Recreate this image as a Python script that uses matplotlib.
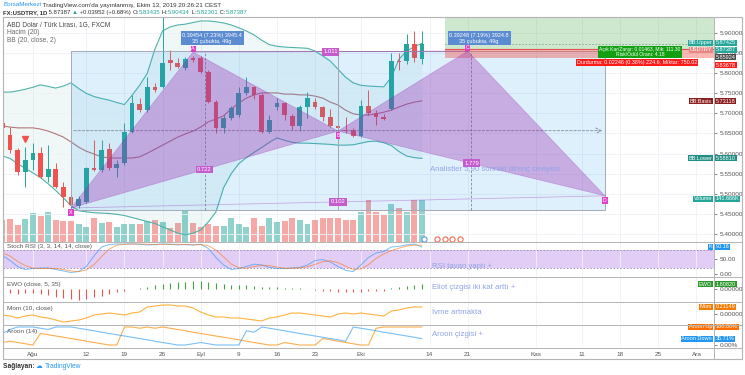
import numpy as np
import pandas as pd
import matplotlib
matplotlib.use("Agg")
import matplotlib.pyplot as plt
import matplotlib.transforms as mtransforms
from matplotlib.patches import Polygon, Rectangle
from matplotlib.lines import Line2D

plt.rcParams['font.family'] = ['Liberation Sans', 'DejaVu Sans']

# ---------------- data ----------------
bar_dates = pd.bdate_range('2019-07-26', '2019-10-11')
base_day = '2019-07-29'

opens = [5.676, 5.646, 5.609, 5.554, 5.584, 5.601, 5.542, 5.562, 5.517, 5.492, 5.470, 5.480, 5.564, 5.559,
         5.611, 5.564, 5.576, 5.654, 5.723, 5.709, 5.766, 5.766, 5.833, 5.825, 5.813, 5.838, 5.838, 5.803,
         5.728, 5.664, 5.689, 5.696, 5.751, 5.766, 5.746, 5.654, 5.716, 5.726, 5.694, 5.669, 5.716, 5.728,
         5.716, 5.691, 5.669, 5.659, 5.659, 5.644, 5.718, 5.701, 5.691, 5.711, 5.831, 5.830, 5.873, 5.83435]
highs = [5.685, 5.666, 5.614, 5.616, 5.626, 5.616, 5.621, 5.577, 5.529, 5.502, 5.495, 5.566, 5.634, 5.634,
         5.626, 5.584, 5.676, 5.746, 5.738, 5.791, 5.776, 5.950, 5.858, 5.838, 5.840, 5.842, 5.842, 5.808,
         5.733, 5.696, 5.718, 5.766, 5.791, 5.768, 5.751, 5.696, 5.738, 5.728, 5.699, 5.721, 5.753, 5.738,
         5.718, 5.711, 5.671, 5.691, 5.664, 5.733, 5.758, 5.708, 5.699, 5.850, 5.850, 5.898, 5.905, 5.90434]
lows = [5.655, 5.602, 5.547, 5.517, 5.559, 5.539, 5.529, 5.514, 5.467, 5.465, 5.465, 5.477, 5.556, 5.554,
        5.559, 5.542, 5.572, 5.651, 5.704, 5.704, 5.753, 5.763, 5.808, 5.813, 5.808, 5.828, 5.800, 5.725,
        5.651, 5.651, 5.684, 5.691, 5.746, 5.736, 5.651, 5.651, 5.708, 5.684, 5.659, 5.656, 5.689, 5.711,
        5.681, 5.666, 5.659, 5.651, 5.641, 5.641, 5.696, 5.671, 5.684, 5.709, 5.808, 5.823, 5.828, 5.82301]
closes = [5.664, 5.609, 5.554, 5.584, 5.601, 5.542, 5.562, 5.517, 5.492, 5.472, 5.487, 5.564, 5.559, 5.609,
          5.564, 5.574, 5.654, 5.726, 5.709, 5.766, 5.758, 5.825, 5.825, 5.815, 5.835, 5.833, 5.803, 5.728,
          5.664, 5.689, 5.713, 5.751, 5.766, 5.746, 5.654, 5.684, 5.726, 5.696, 5.669, 5.716, 5.738, 5.716,
          5.691, 5.669, 5.664, 5.656, 5.644, 5.718, 5.701, 5.691, 5.686, 5.830, 5.829, 5.873, 5.838, 5.87387]
volume_k = [74, 78, 57, 78, 98, 88, 101, 74, 71, 71, 61, 51, 81, 64, 67, 51, 61, 61, 61, 71,
            74, 67, 47, 64, 108, 64, 51, 61, 54, 54, 81, 61, 51, 81, 54, 81, 67, 71, 81, 74,
            61, 74, 81, 81, 81, 74, 74, 101, 142, 101, 91, 128, 115, 101, 142, 141.666]

bb_upper = [5.753, 5.753, 5.756, 5.760, 5.765, 5.771, 5.767, 5.763, 5.768, 5.776, 5.762, 5.750, 5.742, 5.737,
            5.733, 5.727, 5.722, 5.745, 5.770, 5.800, 5.860, 5.905, 5.915, 5.920, 5.922, 5.926, 5.930, 5.930,
            5.928, 5.925, 5.920, 5.913, 5.905, 5.895, 5.882, 5.871, 5.867, 5.865, 5.864, 5.863, 5.862, 5.855,
            5.843, 5.830, 5.810, 5.790, 5.776, 5.770, 5.768, 5.767, 5.766, 5.790, 5.835, 5.855, 5.866, 5.87425]
bb_basis = [5.669, 5.666, 5.664, 5.664, 5.664, 5.661, 5.656, 5.649, 5.641, 5.629, 5.616, 5.606, 5.599, 5.592,
            5.589, 5.589, 5.589, 5.589, 5.592, 5.601, 5.611, 5.621, 5.631, 5.641, 5.649, 5.656, 5.666, 5.679,
            5.686, 5.694, 5.711, 5.726, 5.738, 5.746, 5.751, 5.751, 5.751, 5.748, 5.748, 5.746, 5.746, 5.743,
            5.738, 5.728, 5.721, 5.708, 5.699, 5.696, 5.696, 5.699, 5.703, 5.708, 5.716, 5.723, 5.728, 5.73118]
bb_lower = [5.594, 5.588, 5.575, 5.563, 5.552, 5.540, 5.525, 5.508, 5.490, 5.470, 5.458, 5.455, 5.453, 5.452,
            5.451, 5.449, 5.446, 5.441, 5.436, 5.431, 5.426, 5.418, 5.410, 5.402, 5.398, 5.402, 5.410, 5.430,
            5.455, 5.515, 5.550, 5.575, 5.590, 5.603, 5.615, 5.628, 5.639, 5.633, 5.628, 5.626, 5.626, 5.625,
            5.624, 5.623, 5.621, 5.621, 5.622, 5.626, 5.630, 5.631, 5.627, 5.620, 5.605, 5.594, 5.590, 5.58810]

stoch_k = [62, 45, 25, 15, 18, 20, 20, 15, 10, 5, 8, 25, 60, 90, 98,
           100, 100, 100, 99, 97, 98, 100, 99, 97, 98, 97, 99,
           85, 55, 30, 15, 18, 25, 33, 30, 22, 18, 18, 20, 22, 30, 45, 48, 40, 25, 12, 8, 30, 55, 70, 75,
           90, 92, 97, 100, 90.16]
stoch_d = [70, 60, 42, 28, 20, 18, 19, 18, 15, 10, 8, 13, 31, 58, 83,
           96, 99, 100, 100, 99, 98, 99, 99, 99, 98, 97, 98,
           94, 80, 57, 33, 21, 19, 25, 29, 28, 23, 19, 19, 20, 24, 32, 41, 44, 38, 26, 15, 17, 31, 52, 67,
           78, 86, 93, 96, 96]
ewo = [-1.2, -1.5, -1.8, -1.6, -1.5, -2.0, -2.3, -2.8, -3.3, -3.8, -4.0,
       -3.6, -3.0, -2.4, -1.8, -1.2, -0.6, 0.1, 0.4, 0.8, 1.3,
       1.8, 2.1, 2.4, 2.6, 2.9, 2.8, 2.5, 2.1, 1.8, 1.6,
       1.5, 1.4, 1.2, 0.9, 0.8, 0.7, 0.5, 0.3, 0.2, 0.1,
       -0.3, -0.6, -0.8, -1.0, -1.1, -1.2, -1.0, -0.9, -0.8, -0.6,
       0.2, 0.6, 1.0, 1.3, 1.8082]
mom = [-0.03, -0.06, -0.12, -0.06, -0.03, -0.09, -0.12, -0.18, -0.24, -0.21,
       -0.18, -0.12, -0.03, 0.0, 0.03, 0.0, -0.03, 0.03, 0.06, 0.21,
       0.24, 0.27, 0.27, 0.24, 0.24, 0.18, 0.06, -0.03, -0.09, -0.09,
       -0.12, -0.12, -0.15, -0.18, -0.21, -0.12, -0.09, -0.03, 0.03, 0.03,
       0.0, -0.03, -0.06, -0.09, 0.0, 0.03, 0.0, 0.03, 0.0, -0.03,
       -0.06, 0.09, 0.12, 0.18, 0.21, 0.21149]
aroon_up = [14, 21, 14, 7, 0, 64, 57, 50, 43, 36, 29, 21, 14, 7, 0, 0, 100, 100, 93, 100, 93, 100,
            93, 86, 79, 71, 64, 57, 50, 43, 36, 29, 21, 14, 7, 0, 0, 14, 7, 0, 0, 0, 36, 29, 21, 14,
            7, 0, 0, 93, 100, 100, 100, 100, 100, 100]
aroon_down = [64, 86, 100, 100, 100, 93, 86, 100, 100, 100, 93, 86, 79, 71, 64, 57, 50, 43, 36, 29,
              21, 14, 7, 0, 0, 7, 14, 7, 0, 0, 0, 0, 79, 71, 100, 93, 86, 79, 71, 64, 57, 50, 43, 36,
              29, 21, 100, 93, 86, 79, 71, 64, 57, 50, 43, 35.71]

tick_dates = ['2019-08-01', '2019-08-12', '2019-08-19', '2019-08-26', '2019-09-02', '2019-09-09',
              '2019-09-16', '2019-09-23', '2019-10-01', '2019-10-14', '2019-10-21', '2019-11-01',
              '2019-11-11', '2019-11-18', '2019-11-25', '2019-12-02']
tick_text = ['Ağu', '12', '19', '26', 'Eyl', '9', '16', '23', 'Eki', '14', '21', 'Kas', '11', '18', '25', 'Ara']

# XABCD pattern points (drawing)
pat_names = ['X', 'A', 'B', 'C', 'D']
pat_dates = ['2019-08-08', '2019-08-30', '2019-09-26', '2019-10-21', '2019-11-14']
pat_prices = [5.4647, 5.8527, 5.6560, 5.8549, 5.4950]
pat_ratios = ['0.722', '1.011', '1.779', '0.102']
box_low, box_high = 5.4597, 5.8542
range_labels = ['0.39454 (7.23%) 3945.4\n35 çubukta, 49g', '0.39248 (7.19%) 3924.8\n35 çubukta, 49g']
pos_start, pos_end = '2019-10-16', '2019-12-05'
entry, stop_lvl, target, last_price = 5.85924, 5.83678, 5.953, 5.87387

# ---------------- helpers ----------------
def bpos(d):
    return np.busday_count(base_day, np.array(d, dtype='datetime64[D]'))

W, H = 745, 375
fig = plt.figure(figsize=(W / 100, H / 100), dpi=100)


def prect(x0, y0, x1, y1):
    return [x0 / W, 1 - y1 / H, (x1 - x0) / W, (y1 - y0) / H]


x = bpos(bar_dates.values.astype('datetime64[D]'))
o, h, l, c = map(np.array, (opens, highs, lows, closes))
up = c >= o
GREEN, RED = '#26a69a', '#ef5350'
tick_pos = bpos(tick_dates)
XLIM = (-0.92, 92.3)
GRID = '#eef1f6'
note_col = '#8fa3e6'


def style(ax):
    ax.set_xlim(*XLIM)
    for s in ax.spines.values():
        s.set_visible(False)
    ax.yaxis.tick_right()
    ax.tick_params(axis='y', labelsize=4.6, colors='#555555', length=2, pad=2, width=0.5)
    ax.set_xticks(tick_pos)
    ax.tick_params(axis='x', length=0, labelbottom=False)
    ax.grid(axis='x', color=GRID, lw=0.6)


def tag(ax, yval, value, color, name=None, name_color=None):
    tr = mtransforms.blended_transform_factory(ax.transAxes, ax.transData)
    ax.text((716 - 3) / 711, yval, value, transform=tr, ha='left', va='center', fontsize=4.0,
            color='white', clip_on=False, zorder=20,
            bbox=dict(boxstyle='square,pad=0.1', fc=color, ec='none'))
    if name:
        ax.text((712 - 3) / 711, yval, name, transform=tr, ha='right', va='center', fontsize=4.0,
                color='white', clip_on=False, zorder=20,
                bbox=dict(boxstyle='square,pad=0.1', fc=name_color or color, ec='none'))


# ---------------- main pane ----------------
vol_ax = fig.add_axes(prect(3, 17, 714, 242))
ax = fig.add_axes(prect(3, 17, 714, 242), facecolor='none')
for a in (vol_ax, ax):
    style(a)
vol_ax.set_yticks([])
vol_ax.set_ylim(0, 759)
vol_ax.bar(x, volume_k, width=0.78, color=np.where(up, GREEN, RED), alpha=0.5, zorder=2)
price_ticks = np.round(np.arange(5.40, 5.901, 0.05), 2)
ax.set_ylim(5.3801, 5.9398)
ax.set_yticks(price_ticks)
ax.set_yticklabels([f'{v:.5f}' for v in price_ticks])
ax.grid(axis='y', color=GRID, lw=0.6)
ax.grid(axis='x', visible=False)

# Bollinger bands
ax.fill_between(x, bb_lower, bb_upper, color=GREEN, alpha=0.07, lw=0, zorder=1)
ax.plot(x, bb_upper, color='#4fb3a8', lw=0.8, zorder=3)
ax.plot(x, bb_lower, color='#4fb3a8', lw=0.8, zorder=3)
ax.plot(x, bb_basis, color='#b0686d', lw=0.8, alpha=0.9, zorder=3)

# candles
ax.vlines(x, l, h, colors=np.where(up, GREEN, RED), lw=0.7, zorder=4)
body = np.maximum(np.abs(c - o), 0.0012)
ax.bar(x, body, bottom=np.minimum(o, c), width=0.62, color=np.where(up, GREEN, RED), zorder=5)
ax.plot(x[3], 5.636, marker='v', color=RED, ms=4, zorder=6)

# range measurement boxes
px_ = bpos(pat_dates)
for i, (a, b) in enumerate([(px_[0], px_[2]), (px_[2], px_[4])]):
    ax.add_patch(Rectangle((a, box_low), b - a, box_high - box_low, fc='#2196f3', alpha=0.14,
                           ec='none', zorder=6))
    ax.add_patch(Rectangle((a, box_low), b - a, box_high - box_low, fc='none', ec='#a3a9b8',
                           lw=0.7, zorder=6))
    mid = (a + b) / 2
    ax.plot([mid, mid], [box_low, box_high], ls=(0, (3, 2)), color='#7d8797', lw=0.6, zorder=7)
    ax.annotate(range_labels[i], xy=(mid + 1, box_high), xytext=(0, 5.5), textcoords='offset points',
                ha='center', va='bottom', fontsize=4.0, color='white', zorder=15, linespacing=1.2,
                bbox=dict(boxstyle='square,pad=0.3', fc='#5b8bd0', ec='none'))
ymid = (box_low + box_high) / 2
ax.annotate('', xy=(px_[4], ymid), xytext=(px_[0], ymid),
            arrowprops=dict(arrowstyle='->', ls=(0, (3, 2)), color='#7d8797', lw=0.6), zorder=7)

# XABCD pattern
PUR = '#9c27b0'
pp = np.array(pat_prices)
ax.add_patch(Polygon([(px_[0], pp[0]), (px_[1], pp[1]), (px_[2], pp[2])], closed=True,
                     fc=PUR, alpha=0.33, ec=PUR, lw=0.5, zorder=8))
ax.add_patch(Polygon([(px_[2], pp[2]), (px_[3], pp[3]), (px_[4], pp[4])], closed=True,
                     fc=PUR, alpha=0.33, ec=PUR, lw=0.5, zorder=8))
ax.plot([px_[1], px_[3]], [pp[1], pp[3]], color=PUR, lw=0.6, alpha=0.5, zorder=8)
ax.plot([px_[0], px_[4]], [pp[0], pp[4]], color=PUR, lw=0.6, alpha=0.35, zorder=8)
for i, pair in enumerate([(0, 2), (1, 3), (2, 4), (0, 4)]):
    mx = (px_[pair[0]] + px_[pair[1]]) / 2
    my = (pp[pair[0]] + pp[pair[1]]) / 2
    ax.text(mx, my, pat_ratios[i], ha='center', va='center', fontsize=4.2, color='white', zorder=14,
            bbox=dict(boxstyle='square,pad=0.25', fc='#c45ccd', ec='none'))
for i, nm in enumerate(pat_names):
    dy = 0.5 if nm in ('A', 'C') else -1.5
    ax.annotate(nm, xy=(px_[i], pp[i]), xytext=(0, dy), textcoords='offset points', ha='center',
                va='bottom' if dy > 0 else 'top', fontsize=3.8, color='white', zorder=14,
                bbox=dict(boxstyle='square,pad=0.15', fc='#e040c8', ec='none'))

ax.text(55.0, 5.561, 'Analistler 5,90 sonraki direnç seviyesi', fontsize=5.6, color=note_col,
        ha='left', va='center', zorder=13)

# long position tool
ps, pe = bpos(pos_start), bpos(pos_end)
ax.add_patch(Rectangle((ps, entry), pe - ps, target - entry, fc='#4caf50', alpha=0.28, ec='none', zorder=6))
ax.add_patch(Rectangle((ps, stop_lvl), pe - ps, entry - stop_lvl, fc='#f44336', alpha=0.38, ec='none', zorder=6))
ax.plot([ps, pe], [last_price, last_price], ls=(0, (2, 2)), color='#7fa88a', lw=0.6, zorder=7)
ax.plot([ps, pe], [entry, entry], color='#e35050', lw=0.8, zorder=7)
ax.text(82.6, 5.8520, 'Açık Kar/Zarar: 0.01463, Mik: 111.30\nRisk/Ödül Oranı: 4.18', ha='center',
        va='center', fontsize=3.6, color='white', zorder=16, linespacing=1.0,
        bbox=dict(boxstyle='square,pad=0.2', fc='#12a012', ec='none'))
ax.text(82.2, 5.8262, 'Durdurma: 0.02246 (0.38%) 224.6, Miktar: 750.02', ha='center', va='center',
        fontsize=3.9, color='white', zorder=16,
        bbox=dict(boxstyle='square,pad=0.2', fc='#ff1a1a', ec='none'))

# event icons
ax.scatter([54.3], [5.3885], s=14, fc='white', ec='#5b9be0', lw=0.8, zorder=12, clip_on=False)
ax.scatter([56.0, 57.0, 58.0, 59.0], [5.3885] * 4, s=14, fc='white', ec='#f06b4e', lw=0.8,
           zorder=12, clip_on=False)

# legend texts
ax.text(0.005, 0.965, 'ABD Dolar / Türk Lirası, 1G, FXCM', transform=ax.transAxes, fontsize=4.8,
        color='#4a4a4a', va='center')
ax.text(0.005, 0.93, 'Hacim (20)', transform=ax.transAxes, fontsize=4.8, color='#6a6a6a', va='center')
ax.text(0.005, 0.894, 'BB (20, close, 2)', transform=ax.transAxes, fontsize=4.8, color='#6a6a6a', va='center')

# right tags (positions shifted apart like the chart does)
tag(ax, 5.8755, '5.87425', '#26a69a', 'BB:Upper')
tag(ax, 5.8578, '5.87387', '#26a69a', 'USDTRY', '#e88585')
tag(ax, 5.8398, '5.85924', '#4d4d4d')
tag(ax, 5.8200, '5.83678', '#ff1a1a')
tag(ax, 5.7308, '5.73118', '#8b1e1e', 'BB:Basis')
tag(ax, 5.5881, '5.58810', '#1f8f85', 'BB:Lower')
tag(ax, 5.4871, '141.666K', '#26a69a', 'Volume')

# ---------------- Stoch RSI ----------------
ax1 = fig.add_axes(prect(3, 243, 714, 276))
style(ax1)
ax1.set_ylim(-6.7, 103.3)
ax1.axhspan(20, 80, color='#e2cdf6', lw=0, zorder=0)
ax1.axhline(80, ls=(0, (2, 2)), color='#9a86b5', lw=0.6)
ax1.axhline(20, ls=(0, (2, 2)), color='#9a86b5', lw=0.6)
ax1.plot(x, stoch_k, color='#2196f3', lw=0.7, alpha=0.6)
ax1.plot(x, stoch_d, color='#ff6d00', lw=0.7, alpha=0.55)
ax1.set_yticks([0, 50])
ax1.set_yticklabels(['0.00', '50.00'])
ax1.text(0.005, 0.86, 'Stoch RSI (3, 3, 14, 14, close)', transform=ax1.transAxes, fontsize=4.6, color='#555555')
ax1.text(55.3, 26, 'RSI tavan yaptı +', fontsize=5.6, color=note_col, va='center')
tag(ax1, 98, '', '#ff6d00')
tag(ax1, 90.16, '90.16', '#2196f3', 'K')

# ---------------- EWO ----------------
ax2 = fig.add_axes(prect(3, 277, 714, 301))
style(ax2)
ax2.set_ylim(-4.4, 4.4)
ev = np.array(ewo)
ax2.vlines(x, 0, ev, colors=np.where(ev >= 0, '#43a047', '#ef5350'), lw=0.8)
ax2.set_yticks([0])
ax2.set_yticklabels(['0.00000'])
ax2.text(0.005, 0.62, 'EWO (close, 5, 35)', transform=ax2.transAxes, fontsize=4.6, color='#555555')
ax2.text(55.3, 0.7, 'Eliot çizgisi iki kat arttı +', fontsize=5.6, color=note_col, va='center')
tag(ax2, 1.8082, '1.80820', '#2e9a2e', 'EWO')

# ---------------- Momentum ----------------
ax3 = fig.add_axes(prect(3, 302, 714, 324))
style(ax3)
ax3.set_ylim(-0.30, 0.36)
ax3.plot(x, mom, color='#ff9800', lw=0.8, alpha=0.75)
ax3.set_yticks([0])
ax3.set_yticklabels(['0.00000'])
ax3.text(0.005, 0.62, 'Mom (10, close)', transform=ax3.transAxes, fontsize=4.6, color='#555555')
ax3.text(55.3, 0.06, 'İvme artmakta', fontsize=5.6, color=note_col, va='center')
tag(ax3, 0.2115, '0.21149', '#f57c00', 'Mom')

# ---------------- Aroon ----------------
ax4 = fig.add_axes(prect(3, 325, 714, 347))
style(ax4)
ax4.set_ylim(-11, 111)
ax4.plot(x, aroon_up, color='#fb8c00', lw=0.8, alpha=0.7)
ax4.plot(x, aroon_down, color='#2196f3', lw=0.8, alpha=0.6)
ax4.set_yticks([0])
ax4.set_yticklabels(['0.00%'])
ax4.text(0.005, 0.62, 'Aroon (14)', transform=ax4.transAxes, fontsize=4.6, color='#555555')
ax4.text(55.3, 60, 'Aroon çizgisi +', fontsize=5.6, color=note_col, va='center')
tag(ax4, 100, '100.00%', '#ff6d00', 'Aroon Up')
tag(ax4, 35.71, '35.71%', '#2196f3', 'Aroon Down')
ax4.tick_params(axis='x', labelbottom=True, labelsize=4.6, colors='#555555', pad=3.5, length=0)
ax4.set_xticklabels(tick_text)

# ---------------- frame / separators ----------------
for yy in (242.5, 276.5, 301.5, 324.5, 347.5):
    fig.add_artist(Line2D([3 / W, 742 / W], [1 - yy / H] * 2, color='#b4b4b4', lw=0.7))
fig.add_artist(Line2D([714 / W, 714 / W], [1 - 17 / H, 1 - 359 / H], color='#b4b4b4', lw=0.7))
fig.add_artist(Rectangle((3 / W, 1 - 359 / H), 739 / W, 342 / H, fill=False, ec='#b4b4b4', lw=0.8,
                         transform=fig.transFigure))

# ---------------- header / footer ----------------
renderer = fig.canvas.get_renderer()


def seq_text(x0, y0, parts, size):
    xx = x0
    for s, col, wt in parts:
        t = fig.text(xx / W, 1 - y0 / H, s, color=col, fontsize=size, fontweight=wt, va='center', ha='left')
        xx += t.get_window_extent(renderer=renderer).width


DK = '#333333'
GR = '#26a69a'
seq_text(3, 5, [('BorsaMerkezi', '#2196f3', 'normal'),
                (" TradingView.com'da yayınlanmış, Ekim 13, 2019 20:26:21 CEST", DK, 'normal')], 4.5)
seq_text(3, 12.5, [('FX:USDTRY, 1D', DK, 'bold'), (' 5.87387 ', DK, 'normal'), ('▲', GR, 'normal'),
                   (' +0.03952 (+0.68%) ', DK, 'normal'), ('O:', DK, 'normal'), ('5.83435', GR, 'normal'),
                   (' H:', DK, 'normal'), ('5.90434', GR, 'normal'), (' L:', DK, 'normal'),
                   ('5.82301', GR, 'normal'), (' C:', DK, 'normal'), ('5.87387', GR, 'normal')], 4.3)
seq_text(3, 367, [('Sağlayan: ', DK, 'bold'), ('☁ ', '#2196f3', 'normal'), ('TradingView', '#2196f3', 'normal')], 4.8)

fig.savefig('out.png', dpi=100)
